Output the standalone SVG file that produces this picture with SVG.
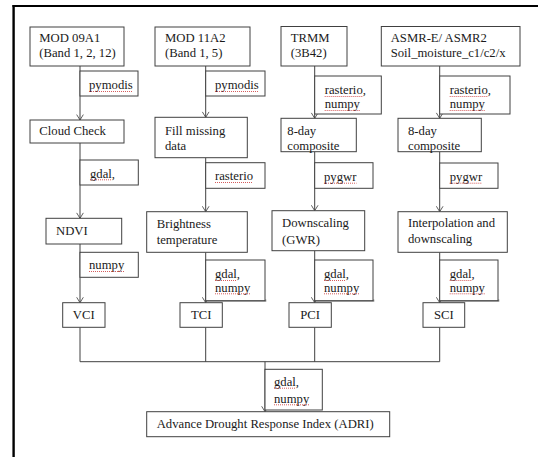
<svg xmlns="http://www.w3.org/2000/svg" width="538" height="457" viewBox="0 0 538 457">
<defs>
<style>
.bx{fill:#fff;stroke:#404040;stroke-width:1}
.lb{fill:#fff;stroke:#404040;stroke-width:1}
.sh{fill:#8a8a8a}
.t{font-family:"Liberation Serif","Times New Roman",serif;font-size:12.7px;fill:#1a1a1a}
.c{text-anchor:middle}
.ln{fill:none;stroke:#404040;stroke-width:1}
.sq{fill:none;stroke:#d04a4a;stroke-width:0.9;stroke-dasharray:1 1}
</style>
<marker id="ah" markerWidth="10" markerHeight="10" refX="0" refY="0" viewBox="-8 -6 10 12" orient="auto" markerUnits="userSpaceOnUse">
<path d="M-6.5,-4 L0,0 L-6.5,4" fill="none" stroke="#404040" stroke-width="1"/>
</marker>
</defs>
<rect width="538" height="457" fill="#fff"/>
<g id="frame">
<line x1="12.5" y1="6" x2="538" y2="6" stroke="#000" stroke-width="2.2"/>
<line x1="13.6" y1="5" x2="13.6" y2="457" stroke="#000" stroke-width="2.4"/>
</g>
<g id="connectors">
<line class="ln" x1="80" y1="66" x2="80" y2="120" marker-end="url(#ah)"/>
<line class="ln" x1="205.7" y1="66" x2="205.7" y2="117.3" marker-end="url(#ah)"/>
<line class="ln" x1="314.7" y1="66" x2="314.7" y2="118.3" marker-end="url(#ah)"/>
<line class="ln" x1="439.7" y1="66" x2="439.7" y2="118.3" marker-end="url(#ah)"/>
<line class="ln" x1="80" y1="143" x2="80" y2="218.3" marker-end="url(#ah)"/>
<line class="ln" x1="205.7" y1="157.7" x2="205.7" y2="211.7" marker-end="url(#ah)"/>
<line class="ln" x1="314.7" y1="151.7" x2="314.7" y2="210.7" marker-end="url(#ah)"/>
<line class="ln" x1="439.7" y1="151.7" x2="439.7" y2="211.7" marker-end="url(#ah)"/>
<line class="ln" x1="80" y1="244" x2="80" y2="302.7" marker-end="url(#ah)"/>
<line class="ln" x1="205.7" y1="252.3" x2="205.7" y2="302.7" marker-end="url(#ah)"/>
<line class="ln" x1="314.7" y1="250.7" x2="314.7" y2="302.7" marker-end="url(#ah)"/>
<line class="ln" x1="439.7" y1="252.3" x2="439.7" y2="302.7" marker-end="url(#ah)"/>
<path class="ln" d="M80,327.3 V361.7 H439.7 V327.3 M205.7,327.3 V361.7 M314.7,327.3 V361.7"/>
<line class="ln" x1="265" y1="361.7" x2="265" y2="411.7" marker-end="url(#ah)"/>
</g>
<g id="n-mod09a1"><rect class="bx" x="30" y="27" width="94" height="39"/><text class="t" x="39.3" y="42.3">MOD 09A1</text><text class="t" x="39.3" y="57.3">(Band 1, 2, 12)</text></g>
<g id="n-mod11a2"><rect class="bx" x="155" y="27" width="95" height="39"/><text class="t" x="165" y="42.3">MOD 11A2</text><text class="t" x="165" y="57.3">(Band 1, 5)</text></g>
<g id="n-trmm"><rect class="bx" x="281" y="26.5" width="66" height="39.5"/><text class="t" x="290.7" y="42.3">TRMM</text><text class="t" x="290.7" y="57.3">(3B42)</text></g>
<g id="n-asmr"><rect class="bx" x="381.3" y="26.5" width="138.7" height="39.5"/><text class="t" x="390.7" y="42.3">ASMR-E/ ASMR2</text><text class="t" x="390.7" y="57.3">Soil_moisture_c1/c2/x</text></g>

<g id="l-pymodis1"><rect class="lb" x="80" y="71" width="58" height="25"/><text class="t" x="89" y="89.3">pymodis</text></g>
<g id="l-pymodis2"><rect class="lb" x="205.7" y="71" width="59.3" height="25"/><text class="t" x="215" y="89.3">pymodis</text></g>
<g id="l-rasterio1"><rect class="lb" x="314.7" y="76" width="66.6" height="38"/><text class="t" x="324.7" y="94.3">rasterio,</text><text class="t" x="324.7" y="108.3">numpy</text></g>
<g id="l-rasterio2"><rect class="lb" x="439.7" y="76" width="70.3" height="38"/><text class="t" x="449.7" y="94.3">rasterio,</text><text class="t" x="449.7" y="108.3">numpy</text></g>

<g id="n-cloud"><rect class="bx" x="30" y="120" width="94" height="23"/><text class="t" x="39.3" y="134.5">Cloud Check</text></g>
<g id="n-fill"><rect class="bx" x="155" y="117.3" width="92.3" height="40.4"/><text class="t" x="165" y="134.5">Fill missing</text><text class="t" x="165" y="150">data</text></g>
<g id="n-8day1"><rect class="bx" x="281" y="118.3" width="75.3" height="33.4"/><text class="t" x="287.3" y="135">8-day</text><text class="t" x="287.3" y="150">composite</text></g>
<g id="n-8day2"><rect class="bx" x="398" y="118.3" width="83.3" height="33.4"/><text class="t" x="408" y="135">8-day</text><text class="t" x="408" y="150">composite</text></g>

<g id="l-gdal1"><rect class="lb" x="80" y="160" width="58.3" height="25"/><text class="t" x="90" y="177.6">gdal,</text></g>
<g id="l-rasterio3"><rect class="lb" x="205.7" y="162.7" width="59.3" height="25.6"/><text class="t" x="215" y="180.3">rasterio</text></g>
<g id="l-pygwr1"><rect class="lb" x="314.7" y="162.7" width="58.3" height="25.6"/><text class="t" x="324" y="181">pygwr</text></g>
<g id="l-pygwr2"><rect class="lb" x="439.7" y="163" width="58.3" height="25.3"/><text class="t" x="449.7" y="181">pygwr</text></g>

<g id="n-ndvi"><rect class="bx" x="46" y="218.3" width="75.7" height="25.7"/><text class="t" x="56" y="235">NDVI</text></g>
<g id="n-bright"><rect class="bx" x="146.7" y="211.7" width="100.6" height="40.6"/><text class="t" x="156.7" y="228.3" fill="#3a3a3a">Brightness</text><text class="t" x="156.7" y="243.6">temperature</text></g>
<g id="n-down"><rect class="bx" x="272" y="210.7" width="92.7" height="40"/><text class="t" x="282" y="227">Downscaling</text><text class="t" x="282" y="243.6">(GWR)</text></g>
<g id="n-interp"><rect class="bx" x="398" y="211.7" width="109.3" height="40.6"/><text class="t" x="408" y="226.8">Interpolation and</text><text class="t" x="408" y="243.3">downscaling</text></g>

<g id="l-numpy1"><rect class="lb" x="80" y="252.3" width="58.3" height="25"/><text class="t" x="89" y="269.3">numpy</text></g>
<g id="l-gn2"><rect class="sh" x="207" y="299.5" width="59.3" height="2.2"/><rect class="lb" x="205.7" y="260" width="59.3" height="40.7"/><text class="t" x="215" y="278.3">gdal,</text><text class="t" x="215" y="291.6">numpy</text></g>
<g id="l-gn3"><rect class="sh" x="316" y="299.5" width="58.3" height="2.2"/><rect class="lb" x="314.7" y="260" width="58.3" height="40.7"/><text class="t" x="324" y="278.3">gdal,</text><text class="t" x="324" y="291.6">numpy</text></g>
<g id="l-gn4"><rect class="sh" x="441" y="299.5" width="58.3" height="2.2"/><rect class="lb" x="439.7" y="260" width="58.3" height="40.7"/><text class="t" x="449.7" y="278.3">gdal,</text><text class="t" x="449.7" y="291.6">numpy</text></g>

<g id="n-vci"><rect class="bx" x="62.7" y="302.7" width="42.3" height="24.6"/><text class="t c" x="83.8" y="319.3">VCI</text></g>
<g id="n-tci"><rect class="bx" x="180" y="302.7" width="42.3" height="24.6"/><text class="t c" x="201.2" y="319.3">TCI</text></g>
<g id="n-pci"><rect class="bx" x="289" y="302.7" width="42.3" height="24.6"/><text class="t c" x="310.2" y="319.3">PCI</text></g>
<g id="n-sci"><rect class="bx" x="423" y="302.7" width="41.7" height="24.6"/><text class="t c" x="443.8" y="319.3">SCI</text></g>

<g id="l-gn5"><rect class="lb" x="265" y="369.3" width="57.3" height="40.7"/><text class="t" x="274" y="386">gdal,</text><text class="t" x="274" y="402.6">numpy</text></g>
<g id="n-adri"><rect class="bx" x="146.7" y="411.7" width="243" height="25"/><text class="t" x="156.7" y="428.3">Advance Drought Response Index (ADRI)</text></g>

<g id="spellcheck">
<line class="sq" x1="89" y1="91.5" x2="133" y2="91.5"/>
<line class="sq" x1="215" y1="91.5" x2="259" y2="91.5"/>
<line class="sq" x1="324.7" y1="96.5" x2="363" y2="96.5"/>
<line class="sq" x1="324.7" y1="110.5" x2="360" y2="110.5"/>
<line class="sq" x1="449.7" y1="96.5" x2="488" y2="96.5"/>
<line class="sq" x1="449.7" y1="110.5" x2="485" y2="110.5"/>
<line class="sq" x1="90" y1="179.8" x2="112" y2="179.8"/>
<line class="sq" x1="215" y1="182.5" x2="253" y2="182.5"/>
<line class="sq" x1="324" y1="183.2" x2="356.5" y2="183.2"/>
<line class="sq" x1="449.7" y1="183.2" x2="482" y2="183.2"/>
<line class="sq" x1="89" y1="271.5" x2="124" y2="271.5"/>
<line class="sq" x1="215" y1="280.5" x2="237" y2="280.5"/>
<line class="sq" x1="215" y1="293.8" x2="250" y2="293.8"/>
<line class="sq" x1="324" y1="280.5" x2="346" y2="280.5"/>
<line class="sq" x1="324" y1="293.8" x2="359" y2="293.8"/>
<line class="sq" x1="449.7" y1="280.5" x2="472" y2="280.5"/>
<line class="sq" x1="449.7" y1="293.8" x2="485" y2="293.8"/>
<line class="sq" x1="274" y1="388.2" x2="296" y2="388.2"/>
<line class="sq" x1="274" y1="404.8" x2="309" y2="404.8"/>
</g>
</svg>
